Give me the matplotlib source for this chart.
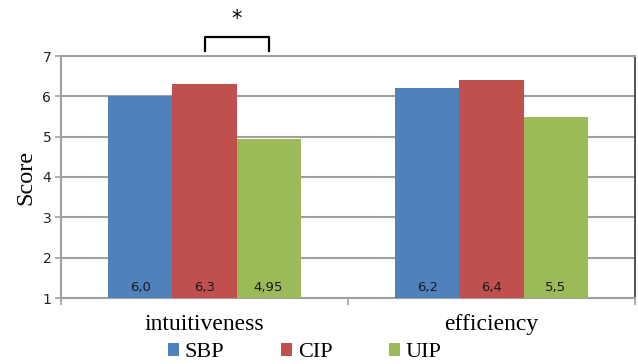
import matplotlib
matplotlib.use("Agg")
import matplotlib.pyplot as plt
import numpy as np
from matplotlib.patches import Patch

categories = ["intuitiveness", "efficiency"]
series = ["SBP", "CIP", "UIP"]
sbp = [6.0, 6.2]
cip = [6.3, 6.4]
uip = [4.95, 5.5]
value_labels = [["6,0", "6,2"], ["6,3", "6,4"], ["4,95", "5,5"]]
colors = ["#4f81bd", "#c0504d", "#9bbb59"]
yticks = [1, 2, 3, 4, 5, 6, 7]

serif = "Liberation Serif"
grid_gray = "#a0a0a0"

fig = plt.figure(figsize=(6.38, 3.64), dpi=100)
ax = fig.add_axes([61 / 638, 1 - 298 / 364, 574 / 638, 242 / 364])

x = np.arange(len(categories))
width = 0.223
base = 1
for i, (vals, col) in enumerate(zip([sbp, cip, uip], colors)):
    pos = x + (i - 1) * width
    ax.bar(pos, np.array(vals) - base, width, bottom=base, color=col, zorder=3)
    for p, lab in zip(pos, value_labels[i]):
        ax.text(p, 1.27, lab, ha="center", va="center", fontsize=9.5,
                color="#1a1a1a", zorder=4)

ax.set_xlim(-0.5, 1.5)
ax.set_ylim(1, 7)
ax.set_yticks(yticks)
ax.set_yticklabels([str(t) for t in yticks], fontsize=10, color="#222222")
ax.yaxis.grid(True, color=grid_gray, linewidth=1.5, zorder=0)
ax.set_xticks([-0.5, 0.5, 1.5], minor=False)
ax.set_xticklabels([])
for c, name in zip(x, categories):
    ax.text(c, -0.065, name, transform=ax.get_xaxis_transform(), ha="center",
            va="top", fontsize=17, family=serif)
ax.tick_params(axis="y", length=4, width=1.2, color=grid_gray, pad=3)
ax.tick_params(axis="x", length=5, width=1.2, color=grid_gray)

for side in ["left", "bottom", "top"]:
    ax.spines[side].set_color(grid_gray)
    ax.spines[side].set_linewidth(1.5)
ax.spines["right"].set_color("#333333")
ax.spines["right"].set_linewidth(1.2)

ax.set_ylabel("Score", family=serif, fontsize=17.5, labelpad=4)

# significance bracket between CIP and UIP for intuitiveness
bx0, bx1 = x[0] + 0.0, x[0] + width
yb0, yb1 = 7.12, 7.47
ax.plot([bx0, bx0, bx1, bx1], [yb0, yb1, yb1, yb0], color="black",
        linewidth=1.6, clip_on=False, solid_joinstyle="round")
ax.text((bx0 + bx1) / 2, 7.92, "*", ha="center", va="center", fontsize=15,
        clip_on=False)

handles = [Patch(facecolor=c, edgecolor="none") for c in colors]
fig.legend(handles, series, loc="lower center", bbox_to_anchor=(0.478, -0.05),
           ncol=3, frameon=False, prop={"family": serif, "size": 16},
           handlelength=0.5, handleheight=0.5, handletextpad=0.25,
           columnspacing=2.55)

fig.savefig("out.png", dpi=100)
